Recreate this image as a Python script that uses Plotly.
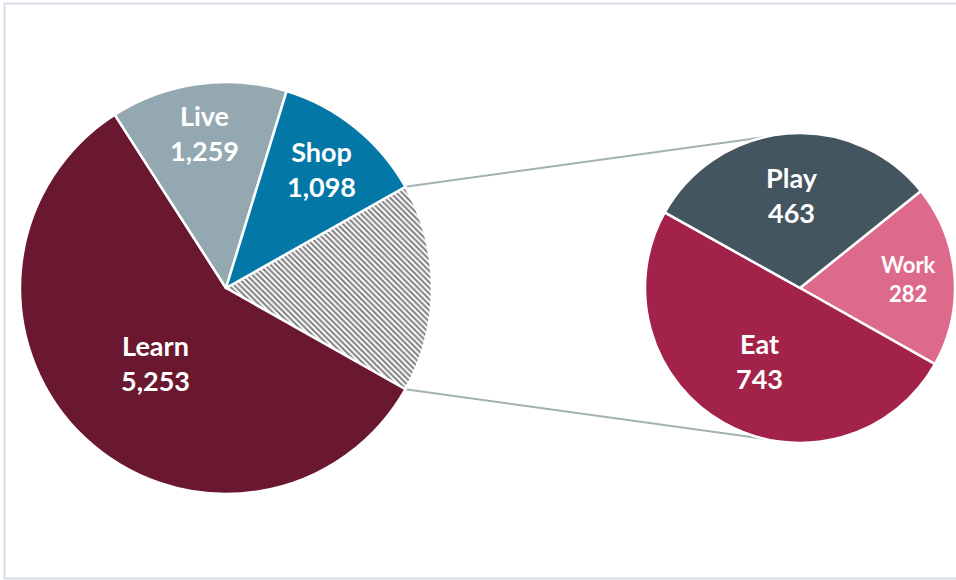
import math
import plotly.graph_objects as go

# Main pie: three named categories plus the "Other" group that is broken out
main_labels = ["Other", "Learn", "Live", "Shop"]
main_values = [1488, 5253, 1259, 1098]
main_colors = ["#FFFFFF", "#6A1830", "#94A8B1", "#0378A6"]

# Breakdown of the "Other" group
sub_labels = ["Work", "Eat", "Play"]
sub_values = [282, 743, 463]
sub_colors = ["#DE6A8B", "#A32249", "#43555E"]

W, H = 956, 580

# Pixel geometry of the two pies (centre x, centre y measured from top, radius)
MAIN_CX, MAIN_CY, MAIN_R = 226, 288, 206
SUB_CX, SUB_CY, SUB_R = 800, 288, 155

# radial placement of each data label, as a fraction of the pie radius
main_label_r = [0.0, 0.50, 0.76, 0.74]
sub_label_r = [0.70, 0.54, 0.60]
main_font = [27, 27, 27, 27]
sub_font = [22, 27, 27]


def domain(cx, cy, r):
    return dict(x=[(cx - r) / W, (cx + r) / W],
                y=[(H - (cy + r)) / H, (H - (cy - r)) / H])


def mid_angles(values, rotation):
    """Mid-angle of each slice (degrees, counter-clockwise from 3 o'clock)
    for a clockwise pie whose first slice starts at `rotation` (clockwise from 12)."""
    total = sum(values)
    out, acc = [], rotation
    for v in values:
        d = v / total * 360.0
        out.append(90.0 - (acc + d / 2.0))
        acc += d
    return out


main_total = sum(main_values)
other_deg = main_values[0] / main_total * 360.0
half = other_deg / 2.0
# "Other" wedge centred on 3 o'clock, slices run clockwise from its upper edge
main_rotation = 90.0 - half
work_deg = sub_values[0] / sum(sub_values) * 360.0
# second pie: Work/Eat boundary lines up with the lower edge of the "Other" wedge
sub_rotation = 90.0 + half - work_deg

font_family = "Lato, 'Open Sans', sans-serif"

fig = go.Figure()

fig.add_trace(go.Pie(
    labels=main_labels, values=main_values, sort=False,
    direction="clockwise", rotation=main_rotation,
    domain=domain(MAIN_CX, MAIN_CY, MAIN_R),
    textinfo="none",
    marker=dict(colors=main_colors,
                line=dict(color="white", width=2.5),
                pattern=dict(shape=["\\", "", "", ""], fgcolor="#000000",
                             bgcolor="white", size=4, solidity=0.5,
                             fillmode="overlay")),
    hoverinfo="skip", showlegend=False,
))

fig.add_trace(go.Pie(
    labels=sub_labels, values=sub_values, sort=False,
    direction="clockwise", rotation=sub_rotation,
    domain=domain(SUB_CX, SUB_CY, SUB_R),
    textinfo="none",
    marker=dict(colors=sub_colors, line=dict(color="white", width=2.5)),
    hoverinfo="skip", showlegend=False,
))

# Data labels placed along each slice's mid-angle
annotations = []


def add_labels(labels, values, rotation, cx, cy, r, fracs, sizes, skip_first=False):
    for i, (lab, val, ang, f, s) in enumerate(
            zip(labels, values, mid_angles(values, rotation), fracs, sizes)):
        if skip_first and i == 0:
            continue
        t = math.radians(ang)
        px = cx + f * r * math.cos(t)
        py = cy - f * r * math.sin(t)
        annotations.append(dict(
            x=px / W, y=(H - py) / H, xref="paper", yref="paper",
            text=f"<b>{lab}<br>{val:,}</b>", showarrow=False,
            xanchor="center", yanchor="middle", align="center",
            font=dict(family=font_family, size=s, color="white")))


add_labels(main_labels, main_values, main_rotation, MAIN_CX, MAIN_CY, MAIN_R,
           main_label_r, main_font, skip_first=True)
add_labels(sub_labels, sub_values, sub_rotation, SUB_CX, SUB_CY, SUB_R,
           sub_label_r, sub_font)

# Connector lines from the edges of the "Other" wedge to the second pie
a = math.radians(half)
p_top = (MAIN_CX + MAIN_R * math.cos(a), MAIN_CY - MAIN_R * math.sin(a))
p_bot = (MAIN_CX + MAIN_R * math.cos(a), MAIN_CY + MAIN_R * math.sin(a))
b = math.radians(103.5)
q_top = (SUB_CX + SUB_R * math.cos(b), SUB_CY - SUB_R * math.sin(b))
q_bot = (SUB_CX + SUB_R * math.cos(b), SUB_CY + SUB_R * math.sin(b))

shapes = []
for p, q in ((p_top, q_top), (p_bot, q_bot)):
    shapes.append(dict(type="line", xref="paper", yref="paper",
                       x0=p[0] / W, y0=(H - p[1]) / H, x1=q[0] / W, y1=(H - q[1]) / H,
                       line=dict(color="#A3B1B3", width=2), layer="below"))

# chart-area frame
shapes.append(dict(type="rect", xref="paper", yref="paper",
                   x0=4.5 / W, y0=(H - 578.5) / H, x1=1.02, y1=(H - 3.5) / H,
                   line=dict(color="#D6DEE5", width=2), layer="below"))

fig.update_layout(
    width=W, height=H,
    margin=dict(l=0, r=0, t=0, b=0),
    paper_bgcolor="white", plot_bgcolor="white",
    shapes=shapes, annotations=annotations,
    font=dict(family=font_family),
)

fig.write_html("out.html")
